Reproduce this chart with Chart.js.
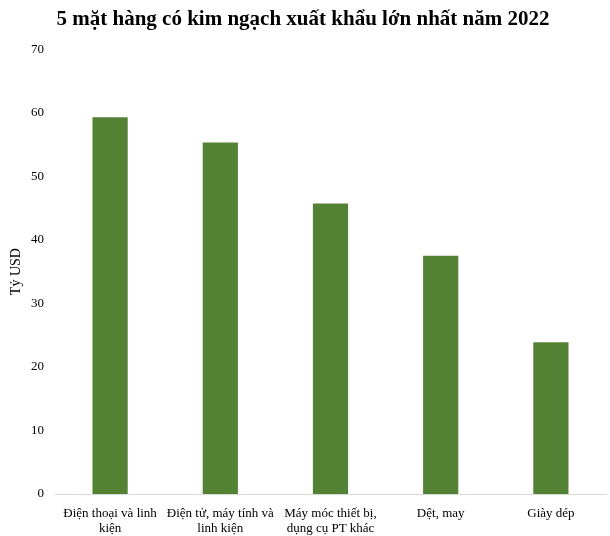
<!DOCTYPE html>
<html>
<head>
<meta charset="utf-8">
<script src="https://cdn.jsdelivr.net/npm/chart.js@4/dist/chart.umd.min.js"></script>
<style>
  html, body { margin: 0; padding: 0; background: #fff; }
  #wrap { width: 610px; height: 536px; }
</style>
</head>
<body>
<div id="wrap"><canvas id="chart" width="610" height="536"></canvas></div>
<script>
// Chart data
const categories = [
  ['Điện thoại và linh', 'kiện'],
  ['Điện tử, máy tính và', 'linh kiện'],
  ['Máy móc thiết bị,', 'dụng cụ PT khác'],
  'Dệt, may',
  'Giày dép'
];
const exportValues = [59.3, 55.3, 45.7, 37.5, 23.9];
const yTicks = [0, 10, 20, 30, 40, 50, 60, 70];

const serif = '"Liberation Serif", "Times New Roman", serif';

const ctx = document.getElementById('chart').getContext('2d');
new Chart(ctx, {
  type: 'bar',
  data: {
    labels: categories,
    datasets: [{
      label: 'Tỷ USD',
      data: exportValues,
      backgroundColor: '#548235',
      borderWidth: 0,
      barPercentage: 0.9,
      categoryPercentage: 0.355
    }]
  },
  options: {
    responsive: false,
    animation: false,
    layout: { padding: { top: 0, right: 4, left: 0, bottom: 0 } },
    plugins: {
      legend: { display: false },
      tooltip: { enabled: false },
      title: {
        display: true,
        text: '5 mặt hàng có kim ngạch xuất khẩu lớn nhất năm 2022',
        color: '#000',
        font: { family: serif, size: 21, weight: 'bold' },
        padding: { top: 7, bottom: 17 }
      }
    },
    scales: {
      x: {
        grid: { display: false, drawTicks: false },
        border: { display: true, color: '#d9d9d9', width: 1 },
        ticks: {
          color: '#000',
          font: { family: serif, size: 13, lineHeight: 1.15 },
          maxRotation: 0,
          autoSkip: false,
          padding: 12
        },
        afterFit: (scale) => { scale.height = 42; }
      },
      y: {
        min: 0,
        max: 70,
        afterBuildTicks: (scale) => { scale.ticks = yTicks.map(v => ({ value: v })); },
        grid: { display: false, drawTicks: false },
        border: { display: false },
        ticks: {
          color: '#000',
          font: { family: serif, size: 13 },
          padding: 11
        },
        title: {
          display: true,
          text: 'Tỷ USD',
          color: '#000',
          font: { family: serif, size: 14 },
          padding: { top: 8, bottom: 0 }
        },
        afterFit: (scale) => { scale.width = 55; }
      }
    }
  }
});
</script>
</body>
</html>
